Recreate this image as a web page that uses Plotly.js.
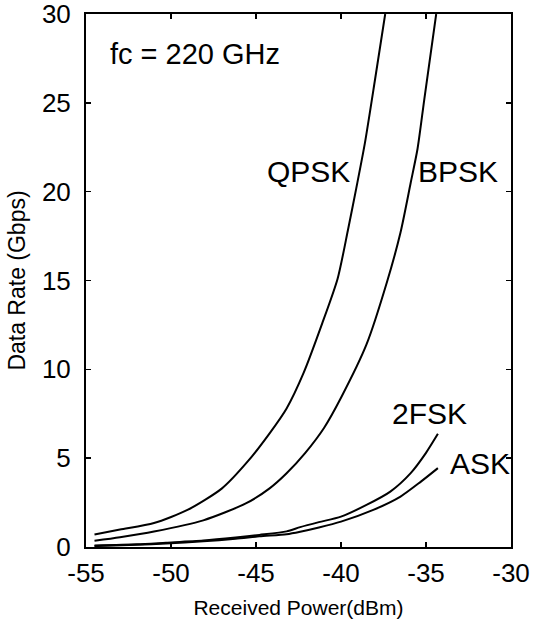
<!DOCTYPE html>
<html>
<head>
<meta charset="utf-8">
<script src="https://cdn.plot.ly/plotly-3.0.1.min.js"></script>
<style>html,body{margin:0;padding:0;background:#fff;}#chart{width:540px;height:619px;}</style>
</head>
<body>
<div id="chart"></div>
<script>
// Received power (dBm) and data rate (Gbps)
const qpskPower = [-54.5, -53, -51, -49, -47, -45.5, -44.2, -43.2, -42.2, -41.1, -40.2, -39.6, -39.1, -38.6, -38.0, -37.4];
const qpskRate  = [0.7, 0.98, 1.35, 2.1, 3.3, 4.8, 6.4, 7.8, 9.8, 12.6, 15.1, 17.8, 20.2, 22.7, 26.3, 30];

const bpskPower = [-54.5, -53, -51, -48.1, -45.6, -44.2, -43.2, -42.1, -41, -40, -38.5, -37.3, -36.5, -35.9, -35.5, -35.1, -34.4];
const bpskRate  = [0.35, 0.55, 0.87, 1.5, 2.45, 3.3, 4.15, 5.3, 6.7, 8.4, 11.4, 14.9, 17.7, 20.5, 22.4, 25.2, 30];

const fskPower = [-54.5, -52, -50.3, -48.1, -46.2, -44.8, -43.2, -42.4, -41.3, -40, -38.5, -37.1, -35.9, -35, -34.3];
const fskRate  = [0.08, 0.15, 0.24, 0.36, 0.53, 0.68, 0.88, 1.12, 1.4, 1.71, 2.37, 3.12, 4.16, 5.3, 6.37];

const askPower = [-54.5, -52, -50.3, -48.1, -46.2, -44.8, -43.2, -42.4, -41.3, -40, -38.1, -36.5, -35.3, -34.3];
const askRate  = [0.05, 0.12, 0.2, 0.32, 0.46, 0.6, 0.72, 0.86, 1.1, 1.43, 2.09, 2.84, 3.68, 4.44];

const seriesNames = ['QPSK', 'BPSK', '2FSK', 'ASK'];
const xTickVals = [-55, -50, -45, -40, -35, -30];
const yTickVals = [0, 5, 10, 15, 20, 25, 30];

const FONT = 'Liberation Sans, Arial, sans-serif';
const line = {color: '#000', width: 2, shape: 'spline', smoothing: 0.7};

const traces = [
  {x: qpskPower, y: qpskRate, name: seriesNames[0]},
  {x: bpskPower, y: bpskRate, name: seriesNames[1]},
  {x: fskPower, y: fskRate, name: seriesNames[2]},
  {x: askPower, y: askRate, name: seriesNames[3]}
].map(t => Object.assign(t, {type: 'scatter', mode: 'lines', line: line, hoverinfo: 'skip', cliponaxis: true}));

const axisCommon = {
  showgrid: false, zeroline: false,
  showline: true, linecolor: '#000', linewidth: 2, mirror: 'ticks',
  ticks: 'inside', ticklen: 5, tickwidth: 1.5, tickcolor: '#000',
  ticklabeloverflow: 'allow',
  tickfont: {family: FONT, size: 26, color: '#000'}
};

const layout = {
  width: 540, height: 619,
  margin: {l: 86, r: 29, t: 14, b: 72},
  paper_bgcolor: '#fff', plot_bgcolor: '#fff',
  showlegend: false,
  font: {family: FONT, color: '#000'},
  xaxis: Object.assign({}, axisCommon, {
    range: [-55, -30], tickvals: xTickVals, ticktext: xTickVals.map(String),
    ticklabelstandoff: 2,
    title: {text: 'Received Power(dBm)', font: {family: FONT, size: 21, color: '#000'}, standoff: 14}
  }),
  yaxis: Object.assign({}, axisCommon, {
    range: [0, 30], tickvals: yTickVals, ticktext: yTickVals.map(String),
    ticklabelstandoff: 8,
    title: {text: 'Data Rate (Gbps)', font: {family: FONT, size: 23, color: '#000'}, standoff: 10}
  }),
  annotations: [
    {x: -53.7, y: 27.75, xanchor: 'left', yanchor: 'middle', text: 'fc = 220 GHz', showarrow: false, font: {family: FONT, size: 29, color: '#000'}},
    {x: -39.35, y: 21.15, xanchor: 'right', yanchor: 'middle', text: seriesNames[0], showarrow: false, font: {family: FONT, size: 30, color: '#000'}},
    {x: -35.6, y: 21.15, xanchor: 'left', yanchor: 'middle', text: seriesNames[1], showarrow: false, font: {family: FONT, size: 30, color: '#000'}},
    {x: -37.1, y: 7.5, xanchor: 'left', yanchor: 'middle', text: seriesNames[2], showarrow: false, font: {family: FONT, size: 30, color: '#000'}},
    {x: -33.7, y: 4.68, xanchor: 'left', yanchor: 'middle', text: seriesNames[3], showarrow: false, font: {family: FONT, size: 30, color: '#000'}}
  ]
};

Plotly.newPlot('chart', traces, layout, {displayModeBar: false, staticPlot: true});
</script>
</body>
</html>
